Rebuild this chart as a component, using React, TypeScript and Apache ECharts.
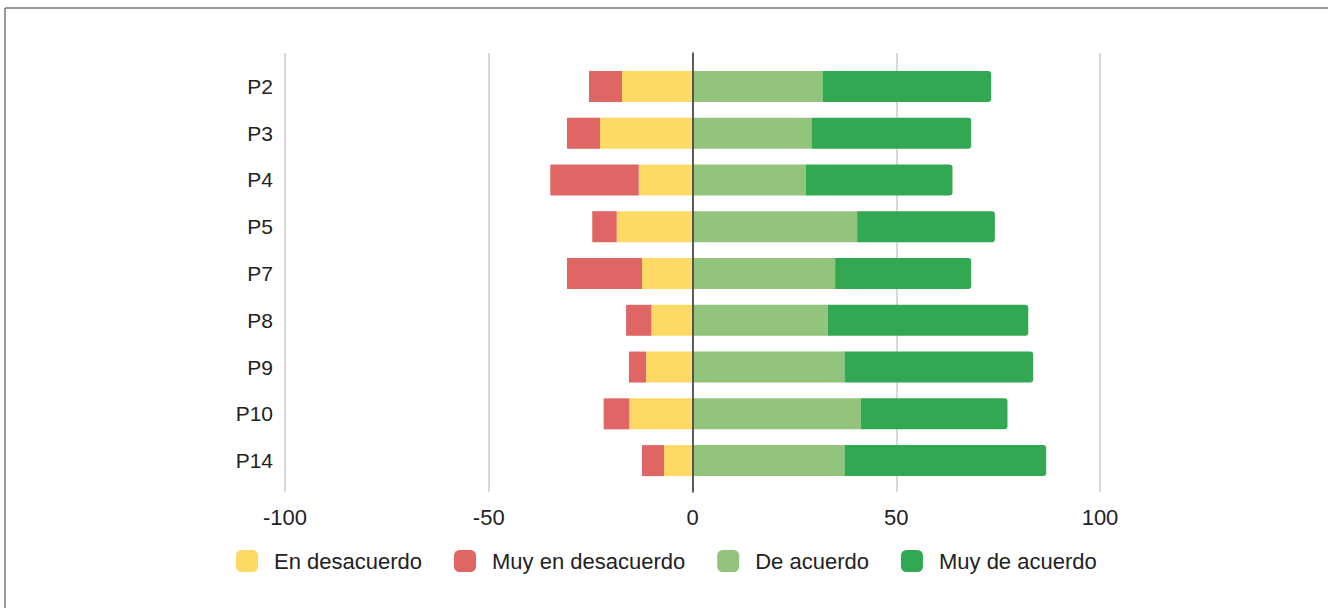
import React, { useEffect, useRef } from "react";
import * as echarts from "echarts";

// Likert responses per question (percent of respondents)
const categories = ["P2", "P3", "P4", "P5", "P7", "P8", "P9", "P10", "P14"];
const enDesacuerdo = [17.3, 22.7, 13.2, 18.6, 12.4, 10.1, 11.4, 15.5, 7.0];
const muyEnDesacuerdo = [8.1, 8.1, 21.7, 6.0, 18.4, 6.2, 4.2, 6.3, 5.4];
const deAcuerdo = [31.9, 29.2, 27.8, 40.4, 35.0, 33.2, 37.3, 41.3, 37.3];
const muyDeAcuerdo = [41.4, 39.2, 36.0, 33.8, 33.4, 49.2, 46.3, 36.0, 49.5];

const seriesNames = ["En desacuerdo", "Muy en desacuerdo", "De acuerdo", "Muy de acuerdo"];
const seriesColors = ["#fed966", "#e06666", "#93c47d", "#33a853"];

const FONT = "'Liberation Sans', Arial, sans-serif";

export default function App() {
  const ref = useRef<HTMLDivElement>(null);

  useEffect(() => {
    if (!ref.current) return;
    const chart = echarts.init(ref.current, undefined, { renderer: "svg" });

    const negate = (arr: number[]) => arr.map((v) => -v);

    const option = {
      animation: false,
      backgroundColor: "#ffffff",
      textStyle: { fontFamily: FONT },
      graphic: [
        {
          type: "group",
          silent: true,
          children: [
            { type: "line", shape: { x1: 5, y1: 8, x2: 1328, y2: 8 }, style: { stroke: "#777777", lineWidth: 1.5 } },
            { type: "line", shape: { x1: 5, y1: 8, x2: 5, y2: 608 }, style: { stroke: "#777777", lineWidth: 1.5 } },
          ],
        },
      ],
      legend: {
        left: 236,
        top: 550,
        padding: 0,
        itemWidth: 22,
        itemHeight: 22,
        itemGap: 32,
        icon: "roundRect",
        data: seriesNames,
        textStyle: {
          fontFamily: FONT,
          fontSize: 22,
          color: "#222222",
          padding: [0, 0, 0, 11],
        },
      },
      grid: [
        { left: 285, width: 815, top: 63, height: 421, containLabel: false },
        { left: 285, width: 815, top: 53, height: 439, containLabel: false },
      ],
      xAxis: [
        {
          gridIndex: 0,
          type: "value",
          min: -100,
          max: 100,
          interval: 50,
          axisLabel: { show: false },
          axisLine: { show: false },
          axisTick: { show: false },
          splitLine: { show: false },
        },
        {
          gridIndex: 1,
          type: "value",
          min: -100,
          max: 100,
          interval: 50,
          axisLabel: { show: true, fontFamily: FONT, fontSize: 22, color: "#222222", margin: 14 },
          axisLine: { show: false },
          axisTick: { show: false },
          splitLine: { show: true, lineStyle: { color: "#cccccc", width: 1.5 } },
        },
      ],
      yAxis: [
        {
          gridIndex: 0,
          type: "category",
          inverse: true,
          data: categories,
          axisLabel: { fontFamily: FONT, fontSize: 21, color: "#222222", margin: 12 },
          axisLine: { show: false },
          axisTick: { show: false },
          splitLine: { show: false },
        },
        {
          gridIndex: 1,
          type: "value",
          min: 0,
          max: 1,
          z: 3,
          axisLabel: { show: false },
          axisTick: { show: false },
          splitLine: { show: false },
          axisLine: { show: true, onZero: true, lineStyle: { color: "#333333", width: 1.5 } },
        },
      ],
      series: [
        {
          name: seriesNames[0],
          type: "bar",
          stack: "likert",
          barWidth: 31,
          xAxisIndex: 0,
          yAxisIndex: 0,
          itemStyle: { color: seriesColors[0] },
          data: negate(enDesacuerdo),
        },
        {
          name: seriesNames[1],
          type: "bar",
          stack: "likert",
          barWidth: 31,
          xAxisIndex: 0,
          yAxisIndex: 0,
          itemStyle: { color: seriesColors[1] },
          data: negate(muyEnDesacuerdo),
        },
        {
          name: seriesNames[2],
          type: "bar",
          stack: "likert",
          barWidth: 31,
          xAxisIndex: 0,
          yAxisIndex: 0,
          itemStyle: { color: seriesColors[2] },
          data: deAcuerdo,
        },
        {
          name: seriesNames[3],
          type: "bar",
          stack: "likert",
          barWidth: 31,
          xAxisIndex: 0,
          yAxisIndex: 0,
          itemStyle: { color: seriesColors[3], borderRadius: [0, 3, 3, 0] },
          data: muyDeAcuerdo,
        },
      ],
    };

    chart.setOption(option);
    return () => chart.dispose();
  }, []);

  return (
    <div
      ref={ref}
      style={{ position: "absolute", left: 0, top: 0, width: 1328, height: 608 }}
    />
  );
}
